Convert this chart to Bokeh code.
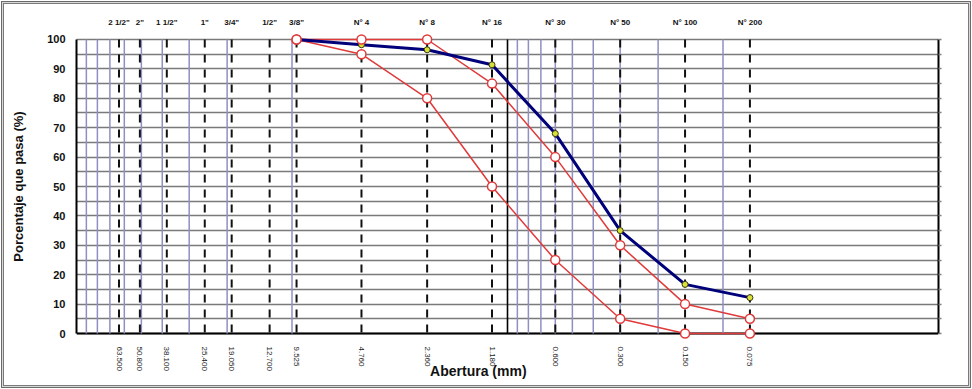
from bokeh.plotting import figure
from bokeh.models import Range1d, FixedTicker, LogAxis, LinearAxis, Grid
from bokeh.embed import file_html
from bokeh.resources import INLINE

# ---------------- data ----------------
sieve_mm = [63.5, 50.8, 38.1, 25.4, 19.05, 12.7, 9.525, 4.76, 2.36, 1.18, 0.6, 0.3, 0.15, 0.075]
sieve_names = ['2 1/2"', '2"', '1 1/2"', '1"', '3/4"', '1/2"', '3/8"',
               "N° 4", "N° 8", "N° 16", "N° 30", "N° 50", "N° 100", "N° 200"]
sieve_labels = ["63.500", "50.800", "38.100", "25.400", "19.050", "12.700", "9.525",
                "4.760", "2.360", "1.180", "0.600", "0.300", "0.150", "0.075"]

curve_mm = [9.525, 4.76, 2.36, 1.18, 0.6, 0.3, 0.15, 0.075]
muestra = [100, 98.2, 96.5, 91.4, 68.0, 35.0, 16.7, 12.2]
limite_sup = [100, 100, 100, 85, 60, 30, 10, 5]
limite_inf = [100, 95, 80, 50, 25, 5, 0, 0]

y_ticks = list(range(0, 101, 10))
y_grid = list(range(0, 101, 5))
minor_grid_mm = [90, 80, 70, 60, 50, 40, 30, 20, 10,
                 0.9, 0.8, 0.7, 0.6, 0.5, 0.4, 0.3, 0.2, 0.1]
major_grid_mm = [1.0]

X_MAX, X_MIN = 100, 0.01
Y_MIN, Y_MAX = 0, 100
Y_PAD = 2.04

FONT = "Liberation Sans"

p = figure(width=972, height=389, x_axis_type="log",
           x_range=Range1d(X_MAX, X_MIN), y_range=Range1d(Y_MIN - Y_PAD, Y_MAX + Y_PAD),
           output_backend="svg", toolbar_location=None,
           min_border_left=76, min_border_right=34, min_border_top=33, min_border_bottom=50,
           outline_line_color=None, background_fill_color="white",
           border_fill_color=None)
# outer chart frame (double grey line) painted on the host element
p.styles = {
    "background-color": "white",
    "box-shadow": ("inset 0 0 0 1px #ffffff, inset 0 0 0 2px #6a6a6a, "
                   "inset 0 0 0 3px #d8d8d8, inset 0 0 0 4px #7a7a7a"),
}

# horizontal grid every 5 %
p.xgrid.visible = False
p.ygrid.ticker = FixedTicker(ticks=y_grid)
p.ygrid.grid_line_color = "#7a7a7a"
p.ygrid.grid_line_width = 1.6
base_grid = Grid(dimension=1, ticker=FixedTicker(ticks=[Y_MIN]), grid_line_color="black",
                 grid_line_width=2)
p.add_layout(base_grid)

# vertical lines
n1 = len(minor_grid_mm)
p.segment(x0=minor_grid_mm, y0=[Y_MIN] * n1, x1=minor_grid_mm, y1=[Y_MAX] * n1,
          line_color="#8f8fc2", line_width=1.5)
n2 = len(major_grid_mm)
p.segment(x0=major_grid_mm, y0=[Y_MIN] * n2, x1=major_grid_mm, y1=[Y_MAX] * n2,
          line_color="black", line_width=1.6)
n3 = len(sieve_mm)
p.segment(x0=sieve_mm, y0=[Y_MAX] * n3, x1=sieve_mm, y1=[Y_MIN] * n3,
          line_color="#111111", line_width=2, line_dash="8 7")

# curves
p.line(curve_mm, limite_sup, line_color="#e03a3a", line_width=1.5)
p.line(curve_mm, limite_inf, line_color="#e03a3a", line_width=1.5)
p.line(curve_mm, muestra, line_color="#00007a", line_width=3)
p.scatter(curve_mm, muestra, size=6, marker="circle", fill_color="#d8e03a",
          line_color="#3a3a10", line_width=1)
p.scatter(curve_mm, limite_sup, size=9, marker="circle", fill_color="white",
          line_color="#e03a3a", line_width=1.5)
p.scatter(curve_mm, limite_inf, size=9, marker="circle", fill_color="white",
          line_color="#e03a3a", line_width=1.5)

# left axis
ya = p.yaxis[0]
ya.ticker = FixedTicker(ticks=y_ticks)
ya.bounds = (Y_MIN, Y_MAX)
ya.axis_line_color = "black"
ya.axis_line_width = 2
ya.major_tick_out = 0
ya.major_tick_in = 0
ya.minor_tick_out = 0
ya.minor_tick_in = 0
ya.major_label_standoff = 11
ya.major_label_text_font = FONT
ya.major_label_text_font_style = "bold"
ya.major_label_text_font_size = "11px"
ya.major_label_text_color = "#111111"
ya.axis_label = "Porcentaje que pasa (%)"
ya.axis_label_text_font = FONT
ya.axis_label_text_font_style = "bold"
ya.axis_label_text_font_size = "13px"
ya.axis_label_text_color = "#111111"
ya.axis_label_standoff = 18

# right border axis
ra = LinearAxis(ticker=FixedTicker(ticks=y_grid), bounds=(Y_MIN, Y_MAX),
                axis_line_color="black", axis_line_width=2,
                major_tick_out=3, major_tick_in=0, major_tick_line_color="#808080",
                major_tick_line_width=1.5, minor_tick_out=0, minor_tick_in=0,
                major_label_text_color=None, major_label_text_font_size="1px")
p.add_layout(ra, "right")

# bottom axis (openings in mm) + title
xa = p.xaxis[0]
xa.ticker = FixedTicker(ticks=sieve_mm)
xa.major_label_overrides = dict(zip(sieve_mm, sieve_labels))
xa.major_label_orientation = "vertical"
xa.axis_line_color = None
xa.major_tick_line_color = None
xa.minor_tick_line_color = None
xa.major_tick_out = 0
xa.major_tick_in = 0
xa.minor_tick_out = 0
xa.minor_tick_in = 0
xa.major_label_standoff = 7
xa.major_label_text_font = FONT
xa.major_label_text_font_size = "8px"
xa.major_label_text_color = "#222222"
# the title sits left of the plot centre in the original: pad with no-break spaces
xa.axis_label = "Abertura (mm)" + "\u00a0" * 15
xa.axis_label_text_font = FONT
xa.axis_label_text_font_style = "bold"
xa.axis_label_text_font_size = "14px"
xa.axis_label_text_color = "#111111"
xa.axis_label_standoff = -11

# top axis (sieve names)
ta = LogAxis(ticker=FixedTicker(ticks=sieve_mm),
             major_label_overrides=dict(zip(sieve_mm, sieve_names)),
             axis_line_color=None, major_tick_line_color=None, minor_tick_line_color=None,
             major_tick_out=0, major_tick_in=0, minor_tick_out=0, minor_tick_in=0,
             major_label_standoff=7, major_label_text_font=FONT,
             major_label_text_font_style="bold", major_label_text_font_size="8px",
             major_label_text_color="#111111")
p.add_layout(ta, "above")

open("out.html", "w").write(file_html(p, INLINE))
